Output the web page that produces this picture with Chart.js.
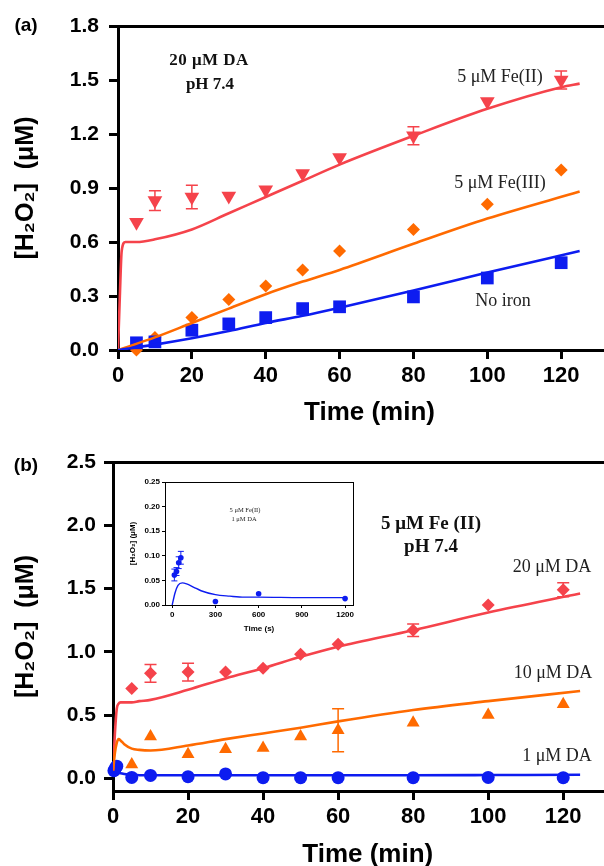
<!DOCTYPE html>
<html>
<head>
<meta charset="utf-8">
<script src="https://cdn.jsdelivr.net/npm/chart.js@4.4.0/dist/chart.umd.min.js"></script>
<style>
  html, body { margin: 0; padding: 0; background: #fff; }
  body { width: 604px; height: 866px; overflow: hidden; position: relative; }
  canvas { position: absolute; }
  #chartA { left: 0; top: 0; width: 630px; height: 430px; }
  #chartB { left: 0; top: 430px; width: 630px; height: 440px; }
  #inset { left: 120px; top: 470px; width: 240px; height: 175px; }
  .note { position: absolute; transform: translate(-50%, -50%); white-space: nowrap; line-height: 1;
          font-family: 'Liberation Serif', 'Times New Roman', serif; font-size: 18px; color: #222; }
  .bold { font-weight: bold; color: #111; }
  .panel { position: absolute; transform: translate(-50%, -50%); line-height: 1;
           font: bold 19px 'Liberation Sans', Arial, sans-serif; }
</style>
</head>
<body>
<canvas id="chartA" width="630" height="430"></canvas>
<canvas id="chartB" width="630" height="440"></canvas>
<canvas id="inset" width="240" height="175"></canvas>

<div class="panel" style="left:26px;top:25px">(a)</div>
<div class="note bold" style="left:209px;top:59px;font-size:17px;letter-spacing:0.5px">20 μM DA</div>
<div class="note bold" style="left:210px;top:83px;font-size:17px">pH 7.4</div>
<div class="note" style="left:500px;top:76px">5 μM Fe(II)</div>
<div class="note" style="left:500px;top:182px">5 μM Fe(III)</div>
<div class="note" style="left:503px;top:300px">No iron</div>

<div class="panel" style="left:26px;top:465px">(b)</div>
<div class="note bold" style="left:431px;top:522px;font-size:19px">5 μM Fe (II)</div>
<div class="note bold" style="left:431px;top:545px;font-size:19px">pH 7.4</div>
<div class="note" style="left:552px;top:566px">20 μM DA</div>
<div class="note" style="left:553px;top:672px">10 μM DA</div>
<div class="note" style="left:557px;top:755px">1 μM DA</div>
<div class="note" style="left:245px;top:510px;font-size:6.5px">5 μM Fe(II)</div>
<div class="note" style="left:244px;top:519px;font-size:6.5px">1 μM DA</div>

<script>
// ---- panel (a): 20 uM DA, pH 7.4 ----
const timeA = [5, 10, 20, 30, 40, 50, 60, 80, 100, 120];
const fe2Vals = [0.71, 0.83, 0.85, 0.855, 0.89, 0.98, 1.07, 1.19, 1.38, 1.50];
const fe2Err = [0, 0.055, 0.065, 0, 0, 0, 0, 0.05, 0, 0.05];
const fe3Vals = [0.0, 0.07, 0.18, 0.28, 0.355, 0.445, 0.55, 0.67, 0.81, 1.0];
const noIronVals = [0.04, 0.045, 0.11, 0.145, 0.18, 0.23, 0.24, 0.295, 0.40, 0.485];

const fe2FitTime = [0, 0.5, 1, 2, 5, 10, 20, 30, 40, 50, 60, 80, 100, 120, 125];
const fe2Fit = [0, 0.3, 0.55, 0.6, 0.6, 0.615, 0.67, 0.76, 0.85, 0.94, 1.03, 1.19, 1.34, 1.46, 1.48];
const fitTimeA = [0, 10, 20, 30, 40, 50, 60, 80, 100, 125];
const fe3Fit = [0, 0.07, 0.15, 0.23, 0.31, 0.38, 0.445, 0.59, 0.73, 0.88];
const noIronFit = [0, 0.03, 0.065, 0.105, 0.15, 0.19, 0.235, 0.33, 0.43, 0.55];

const xTicksMain = [0, 20, 40, 60, 80, 100, 120];
const yTicksA = [0, 0.3, 0.6, 0.9, 1.2, 1.5, 1.8];

// ---- panel (b): 5 uM Fe(II), pH 7.4 ----
const timeB = [5, 10, 20, 30, 40, 50, 60, 80, 100, 120];
const da20Vals = [0.71, 0.83, 0.84, 0.84, 0.87, 0.98, 1.06, 1.17, 1.37, 1.49];
const da20Err = [0, 0.07, 0.07, 0, 0, 0, 0, 0.05, 0, 0.055];
const da10Vals = [0.11, 0.33, 0.19, 0.23, 0.24, 0.33, 0.38, 0.44, 0.50, 0.585];
const da10Err = [0, 0, 0, 0, 0, 0, 0.17, 0, 0, 0];
const timeB1 = [0.25, 0.5, 0.75, 1, 5, 10, 20, 30, 40, 50, 60, 80, 100, 120];
const da1Vals = [0.061, 0.068, 0.086, 0.096, 0.007, 0.023, 0.013, 0.035, 0.005, 0.005, 0.005, 0.005, 0.007, 0.005];

const fitTimeB = [0, 0.5, 1, 1.5, 2, 3, 5, 7, 10, 20, 30, 40, 50, 60, 80, 100, 124.5];
const da20Fit = [0.05, 0.35, 0.55, 0.59, 0.6, 0.6, 0.6, 0.61, 0.62, 0.7, 0.79, 0.87, 0.96, 1.04, 1.17, 1.31, 1.46];
const da10Fit = [0.05, 0.2, 0.28, 0.31, 0.3, 0.27, 0.235, 0.225, 0.22, 0.26, 0.31, 0.355, 0.4, 0.45, 0.54, 0.61, 0.69];
const da1Fit = [0.05, 0.05, 0.05, 0.045, 0.04, 0.035, 0.03, 0.025, 0.025, 0.025, 0.025, 0.025, 0.025, 0.025, 0.025, 0.026, 0.028];

const yTicksB = [0, 0.5, 1.0, 1.5, 2.0, 2.5];

// ---- inset: 5 uM Fe(II), 1 uM DA, time in seconds ----
const insetTime = [15, 30, 45, 60, 300, 600, 1200];
const insetVals = [0.061, 0.068, 0.086, 0.096, 0.007, 0.023, 0.013];
const insetErr = [0.012, 0.008, 0.012, 0.013, 0, 0, 0];
const insetFitTime = [0, 20, 40, 70, 100, 150, 200, 300, 400, 500, 600, 900, 1200];
const insetFit = [0, 0.025, 0.04, 0.045, 0.043, 0.036, 0.029, 0.021, 0.018, 0.016, 0.016, 0.015, 0.015];
const xTicksInset = [0, 300, 600, 900, 1200];
const yTicksInset = [0, 0.05, 0.10, 0.15, 0.20, 0.25];

const RED = '#f5434b';
const ORANGE = '#ff6a00';
const BLUE = '#0d1cf0';
const SANS = "'Liberation Sans', Arial, 'DejaVu Sans', sans-serif";

Chart.defaults.font.family = SANS;
Chart.defaults.color = '#000';

const pts = (xs, ys) => xs.map((x, i) => ({ x: x, y: ys[i] }));

// vertical error bars with caps, positioned through the chart scales
const errorBars = {
  id: 'errorBars',
  beforeDatasetsDraw(chart) {
    const ctx = chart.ctx;
    chart.data.datasets.forEach((ds, i) => {
      if (!ds.errors) return;
      const meta = chart.getDatasetMeta(i);
      const xs = chart.scales[meta.xAxisID];
      const ys = chart.scales[meta.yAxisID];
      const cap = ds.capHalf || 6;
      ctx.save();
      ctx.strokeStyle = ds.backgroundColor;
      ctx.lineWidth = ds.errWidth || 1.5;
      ds.data.forEach((p, k) => {
        const e = ds.errors[k];
        if (!e) return;
        const x = xs.getPixelForValue(p.x);
        const y1 = ys.getPixelForValue(p.y - e);
        const y2 = ys.getPixelForValue(p.y + e);
        ctx.beginPath();
        ctx.moveTo(x, y1); ctx.lineTo(x, y2);
        ctx.moveTo(x - cap, y1); ctx.lineTo(x + cap, y1);
        ctx.moveTo(x - cap, y2); ctx.lineTo(x + cap, y2);
        ctx.stroke();
      });
      ctx.restore();
    });
  }
};

function markers(data, color, style, radius, rotation, errors) {
  return {
    data: data, showLine: false, clip: false,
    backgroundColor: color, borderColor: color, borderWidth: 0,
    pointStyle: style, pointRadius: radius, pointRotation: rotation || 0,
    pointHoverRadius: radius, errors: errors
  };
}

function fitLine(data, color, width) {
  return {
    data: data, showLine: true, pointRadius: 0, borderColor: color, backgroundColor: color,
    borderWidth: width || 2.6, cubicInterpolationMode: 'monotone', fill: false
  };
}

function mainScales(xMax, yMin, yMax, yTicks, yWidth, xHeight, tickPad, decimals, titlePadBottom) {
  return {
    x: {
      type: 'linear', min: 0, max: xMax, position: 'bottom',
      afterFit: s => { s.height = xHeight; },
      afterBuildTicks: s => { s.ticks = xTicksMain.map(v => ({ value: v })); },
      ticks: { font: { size: 22, weight: 'bold' }, padding: 4, maxRotation: 0, autoSkip: false,
               callback: v => String(v) },
      grid: { drawOnChartArea: false, tickLength: 9, tickWidth: 3, tickColor: '#000' },
      border: { color: '#000', width: 3 },
      title: { display: true, text: 'Time (min)', font: { size: 26, weight: 'bold' },
               padding: { top: 0, bottom: titlePadBottom } }
    },
    xTop: {
      type: 'linear', position: 'top', min: 0, max: xMax,
      afterFit: s => { s.height = 0; },
      ticks: { display: false }, grid: { display: false },
      border: { color: '#000', width: 3 }
    },
    y: {
      type: 'linear', min: yMin, max: yMax,
      afterFit: s => { s.width = yWidth; },
      afterBuildTicks: s => { s.ticks = yTicks.map(v => ({ value: v })); },
      ticks: { font: { size: 21, weight: 'bold' }, padding: tickPad, callback: v => v.toFixed(decimals) },
      grid: { drawOnChartArea: false, tickLength: 9, tickWidth: 3, tickColor: '#000' },
      border: { color: '#000', width: 3 },
      title: { display: true, text: '[H₂O₂]  (μM)', font: { size: 25, weight: 'bold' },
               padding: { top: 11, bottom: 0 } }
    }
  };
}

const common = {
  responsive: false, animation: false, devicePixelRatio: 1,
  plugins: { legend: { display: false }, tooltip: { enabled: false } },
  events: []
};

// Panel (a)
new Chart(document.getElementById('chartA'), {
  type: 'scatter',
  data: {
    datasets: [
      fitLine(pts(fitTimeA, noIronFit), BLUE),
      fitLine(pts(fitTimeA, fe3Fit), ORANGE),
      fitLine(pts(fe2FitTime, fe2Fit), RED),
      markers(pts(timeA, noIronVals), BLUE, 'rect', 9),
      markers(pts(timeA, fe3Vals), ORANGE, 'rectRot', 6.5),
      markers(pts(timeA, fe2Vals), RED, 'triangle', 8.5, 180, fe2Err)
    ]
  },
  options: Object.assign({}, common, {
    layout: { padding: { top: 26, left: 0, right: 0, bottom: 0 } },
    scales: mainScales(136.2, 0, 1.8, yTicksA, 118, 80, 10, 1, 2)
  }),
  plugins: [errorBars]
});

// Panel (b)
new Chart(document.getElementById('chartB'), {
  type: 'scatter',
  data: {
    datasets: [
      fitLine(pts(fitTimeB, da1Fit), BLUE),
      fitLine(pts(fitTimeB, da10Fit), ORANGE),
      fitLine(pts(fitTimeB, da20Fit), RED),
      markers(pts(timeB1, da1Vals), BLUE, 'circle', 6.5),
      markers(pts(timeB, da10Vals), ORANGE, 'triangle', 7.5, 0, da10Err),
      markers(pts(timeB, da20Vals), RED, 'rectRot', 6.5, 0, da20Err)
    ]
  },
  options: Object.assign({}, common, {
    layout: { padding: { top: 32, left: 0, right: 0, bottom: 0 } },
    scales: mainScales(135.8, -0.1, 2.5, yTicksB, 113, 79, 8, 1, 0)
  }),
  plugins: [errorBars]
});

// Inset of panel (b)
const insetFont = { size: 8, weight: 'bold' };
new Chart(document.getElementById('inset'), {
  type: 'scatter',
  data: {
    datasets: [
      fitLine(pts(insetFitTime, insetFit), BLUE, 1.4),
      Object.assign(markers(pts(insetTime, insetVals), BLUE, 'circle', 2.8, 0, insetErr),
                    { capHalf: 3, errWidth: 1 })
    ]
  },
  options: Object.assign({}, common, {
    layout: { padding: { top: 12, left: 0, right: 7, bottom: 0 } },
    scales: {
      x: {
        type: 'linear', min: -50, max: 1255, position: 'bottom',
        afterFit: s => { s.height = 40; },
        afterBuildTicks: s => { s.ticks = xTicksInset.map(v => ({ value: v })); },
        ticks: { font: insetFont, padding: 2, maxRotation: 0, autoSkip: false, callback: v => String(v) },
        grid: { drawOnChartArea: false, tickLength: 3, tickWidth: 1, tickColor: '#000' },
        border: { color: '#000', width: 1 },
        title: { display: true, text: 'Time (s)', font: insetFont, padding: { top: 0, bottom: 11 } }
      },
      xTop: {
        type: 'linear', position: 'top', min: 0, max: 1,
        afterFit: s => { s.height = 0; },
        ticks: { display: false }, grid: { display: false },
        border: { color: '#000', width: 1 }
      },
      y: {
        type: 'linear', min: 0, max: 0.25,
        afterFit: s => { s.width = 45; },
        afterBuildTicks: s => { s.ticks = yTicksInset.map(v => ({ value: v })); },
        ticks: { font: insetFont, padding: 2, callback: v => v.toFixed(2) },
        grid: { drawOnChartArea: false, tickLength: 3, tickWidth: 1, tickColor: '#000' },
        border: { color: '#000', width: 1 },
        title: { display: true, text: '[H₂O₂] (μM)', font: insetFont, padding: { top: 8, bottom: 0 } }
      },
      yRight: {
        type: 'linear', position: 'right', min: 0, max: 1,
        afterFit: s => { s.width = 0; },
        ticks: { display: false }, grid: { display: false },
        border: { color: '#000', width: 1 }
      }
    }
  }),
  plugins: [errorBars]
});
</script>
</body>
</html>
